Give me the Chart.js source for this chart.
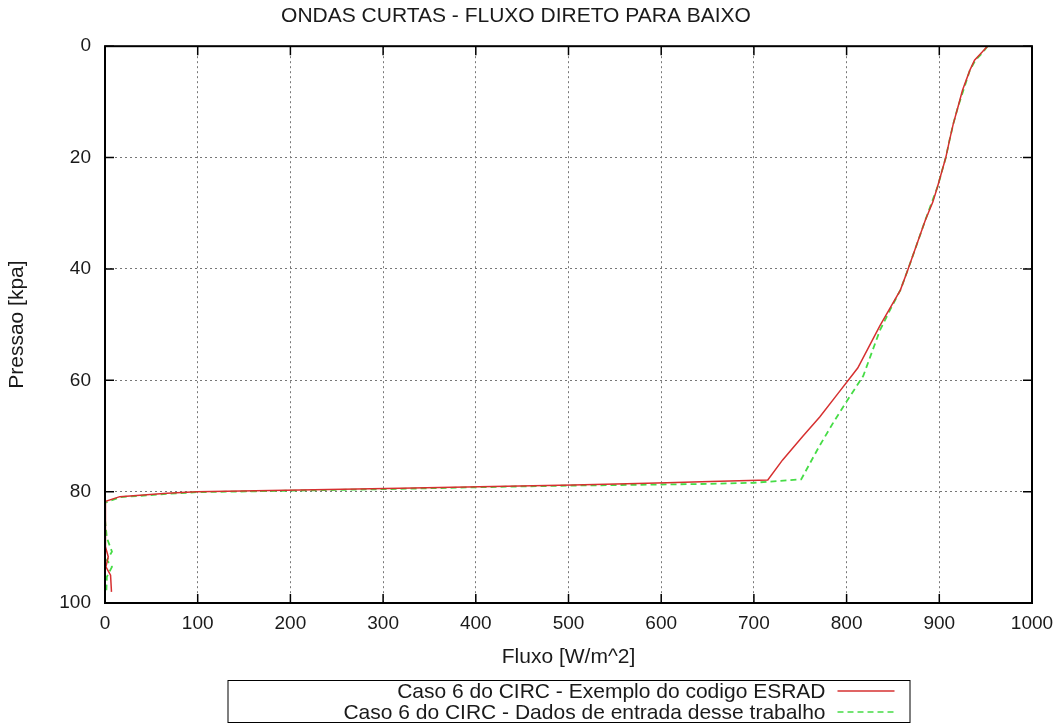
<!DOCTYPE html>
<html>
<head>
<meta charset="utf-8">
<title>Ondas curtas - fluxo direto para baixo</title>
<script src="https://cdn.jsdelivr.net/npm/chart.js@4.4.1/dist/chart.umd.min.js"></script>
<style>
    html, body { margin: 0; padding: 0; background: #fff; }
    #wrap { position: relative; width: 1063px; height: 727px; }
</style>
</head>
<body>
<div id="wrap"><canvas id="myChart"></canvas></div>
<script>
// values, from the top of the atmosphere (0 kPa) down to the surface
const esradFlux = [952, 946, 938, 933, 925, 920, 915, 911, 907, 898, 893, 885, 877, 866, 858, 847, 836, 824, 812, 791, 771, 753, 731, 715,
    653, 606, 563, 505, 404, 318, 210, 99, 67, 16, 0, 0, 1, 3.5, 1, 6, 7];
const esradPressure = [0, 1.1, 2.5, 4.3, 7.9, 11, 14, 16.9, 20, 25.3, 28, 31.2, 35, 40.2, 43.8, 47, 50.2, 54, 57.8, 62.3, 66.6, 70, 74.3, 77.9,
    78.2, 78.4, 78.6, 78.8, 79.1, 79.4, 79.7, 80.0, 80.3, 80.9, 81.8, 86, 89.9, 91.7, 93.5, 95, 98];

const inputFlux = [952, 947, 939, 933, 926, 920, 915, 911, 907, 898, 892, 885, 877, 866, 858, 848, 836, 818, 800, 786, 770, 751,
    700, 653, 563, 505, 404, 318, 210, 99, 67, 16, 0, 0, 2, 7.5, 2, 7.5, 2, 1.5];
const inputPressure = [0, 1.1, 2.5, 4.3, 7.9, 11, 14, 16.9, 20, 25.3, 28, 31.2, 35, 40.2, 43.8, 47, 51, 59.2, 63.8, 67.5, 72, 77.8,
    78.4, 78.6, 78.8, 78.9, 79.2, 79.5, 79.8, 80.1, 80.4, 81, 82, 85, 88.3, 90.8, 92.3, 93.5, 95.3, 97.7];

const fluxTicks = [0, 100, 200, 300, 400, 500, 600, 700, 800, 900, 1000];
const pressureTicks = [0, 20, 40, 60, 80, 100];

const seriesLabels = ['Caso 6 do CIRC - Exemplo do codigo ESRAD', 'Caso 6 do CIRC - Dados de entrada desse trabalho'];

const FONT = "'Liberation Sans', Arial, Helvetica, sans-serif";
const TEXT = '#1a1a1a';

function toPoints(xs, ys) {
    return xs.map((x, i) => ({ x: x, y: ys[i] }));
}

// gnuplot style frame: black box with short ticks pointing inwards
const framePlugin = {
    id: 'frame',
    afterDatasetsDraw(chart) {
        const { ctx, chartArea: a, scales } = chart;
        ctx.save();
        ctx.strokeStyle = '#000';
        ctx.lineWidth = 2;
        ctx.strokeRect(a.left, a.top, a.right - a.left, a.bottom - a.top);
        ctx.lineWidth = 1.5;
        ctx.beginPath();
        fluxTicks.forEach(v => {
            const px = scales.x.getPixelForValue(v);
            ctx.moveTo(px, a.bottom); ctx.lineTo(px, a.bottom - 9);
            ctx.moveTo(px, a.top); ctx.lineTo(px, a.top + 9);
        });
        pressureTicks.forEach(v => {
            const py = scales.y.getPixelForValue(v);
            ctx.moveTo(a.left, py); ctx.lineTo(a.left + 9, py);
            ctx.moveTo(a.right, py); ctx.lineTo(a.right - 9, py);
        });
        ctx.stroke();
        ctx.restore();
    }
};

// legend box under the plot, text right aligned with the line sample after it
const legendBoxPlugin = {
    id: 'legendBox',
    afterDraw(chart) {
        const { ctx, chartArea: a } = chart;
        const mid = (a.left + a.right) / 2;
        const left = mid - 341, right = mid + 341;
        const top = a.bottom + 77, height = 42;
        ctx.save();
        ctx.strokeStyle = '#000';
        ctx.lineWidth = 1;
        ctx.strokeRect(left + 0.5, top + 0.5, right - left, height);
        ctx.font = '21px ' + FONT;
        ctx.fillStyle = TEXT;
        ctx.textAlign = 'right';
        ctx.textBaseline = 'middle';
        chart.data.datasets.forEach((ds, i) => {
            const y = top + 11 + i * 21;
            ctx.fillText(ds.label, right - 84, y + 1);
            ctx.strokeStyle = ds.borderColor;
            ctx.lineWidth = 1.5;
            ctx.setLineDash(ds.borderDash || []);
            ctx.beginPath();
            ctx.moveTo(right - 72, y);
            ctx.lineTo(right - 15, y);
            ctx.stroke();
            ctx.setLineDash([]);
        });
        ctx.restore();
    }
};

const gridDash = { display: true, color: '#000', width: 0, dash: [2, 3] };

new Chart(document.getElementById('myChart'), {
    type: 'scatter',
    data: {
        datasets: [
            {
                label: seriesLabels[0],
                data: toPoints(esradFlux, esradPressure),
                showLine: true,
                borderColor: 'rgb(214, 48, 48)',
                borderWidth: 1.5,
                pointRadius: 0,
                tension: 0
            },
            {
                label: seriesLabels[1],
                data: toPoints(inputFlux, inputPressure),
                showLine: true,
                borderColor: 'rgb(70, 220, 70)',
                borderWidth: 1.8,
                borderDash: [6, 4],
                pointRadius: 0,
                tension: 0
            }
        ]
    },
    options: {
        responsive: true,
        maintainAspectRatio: false,
        animation: false,
        layout: { padding: { left: 0, right: 31, top: 0, bottom: 57 } },
        plugins: {
            legend: { display: false },
            tooltip: { enabled: false },
            title: {
                display: true,
                text: 'ONDAS CURTAS - FLUXO DIRETO PARA BAIXO',
                color: TEXT,
                font: { family: FONT, size: 21, weight: 'normal' },
                padding: { top: 4, bottom: 17 }
            }
        },
        scales: {
            x: {
                type: 'linear',
                min: 0,
                max: 1000,
                afterBuildTicks: (scale) => { scale.ticks = fluxTicks.map(v => ({ value: v })); },
                afterFit: (scale) => { scale.height = 67; },
                ticks: {
                    color: TEXT, padding: 9, maxRotation: 0,
                    font: { family: FONT, size: 19 },
                    callback: (v) => String(v)
                },
                grid: { color: '#777', lineWidth: 1, drawTicks: false },
                border: gridDash,
                title: {
                    display: true,
                    text: 'Fluxo [W/m^2]',
                    color: TEXT,
                    font: { family: FONT, size: 21 },
                    padding: { top: 4, bottom: 0 }
                }
            },
            y: {
                type: 'linear',
                reverse: true,
                min: 0,
                max: 100,
                afterBuildTicks: (scale) => { scale.ticks = pressureTicks.map(v => ({ value: v })); },
                afterFit: (scale) => { scale.width = 105; },
                ticks: {
                    color: TEXT, padding: 14,
                    font: { family: FONT, size: 19 },
                    callback: (v) => String(v)
                },
                grid: { color: '#777', lineWidth: 1, drawTicks: false },
                border: gridDash,
                title: {
                    display: true,
                    text: 'Pressao [kpa]',
                    color: TEXT,
                    font: { family: FONT, size: 21 },
                    padding: { top: 5, bottom: 0 }
                }
            }
        }
    },
    plugins: [framePlugin, legendBoxPlugin]
});
</script>
</body>
</html>
